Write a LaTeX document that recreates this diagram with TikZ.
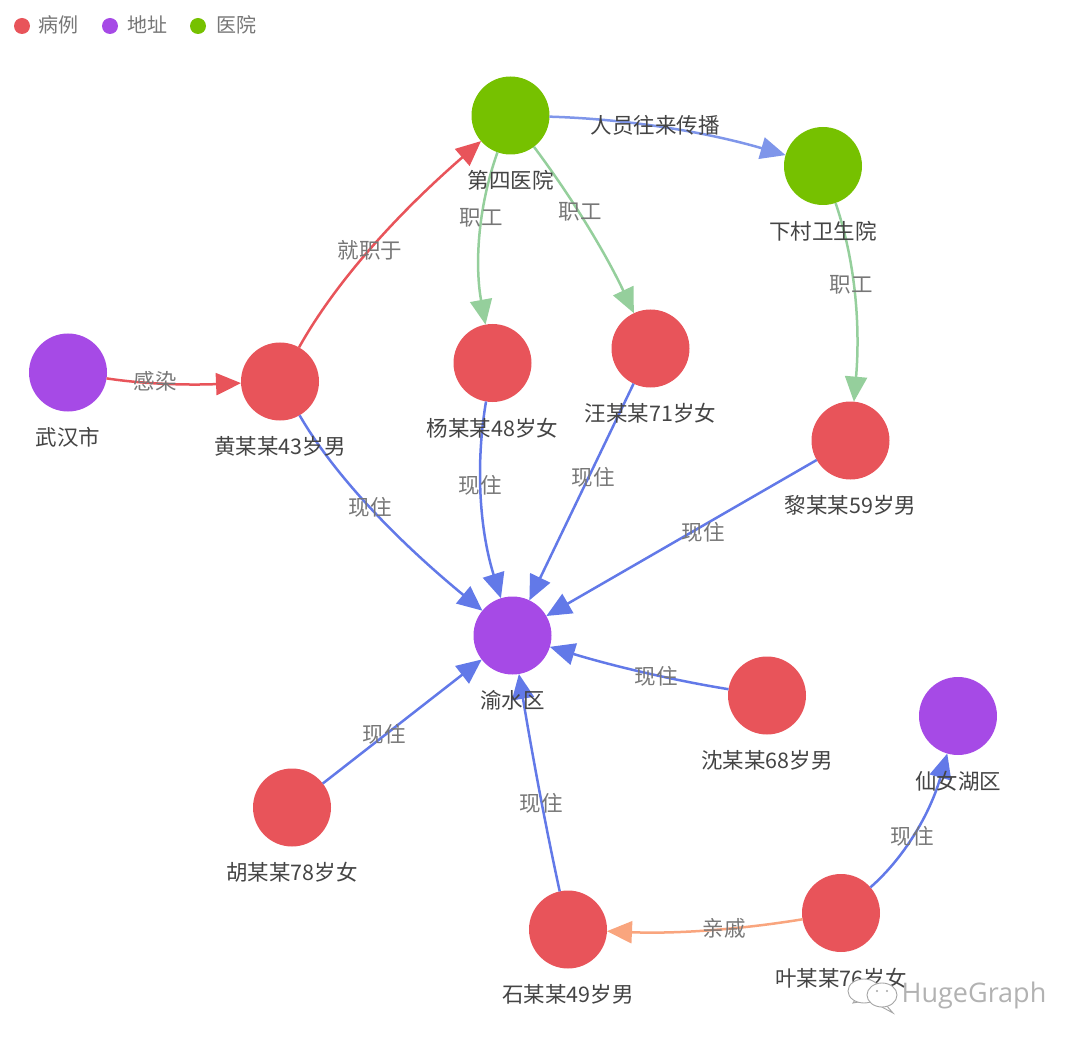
\documentclass[tikz,border=0pt]{standalone}
\usepackage{fontspec}
\setmainfont{Noto Sans CJK SC}
\newfontfamily\wmfont{Open Sans}
\usetikzlibrary{arrows.meta}
\definecolor{cred}{HTML}{E8545A}
\definecolor{cpurple}{HTML}{A64AE6}
\definecolor{cgreen}{HTML}{76C100}
\definecolor{eblue}{HTML}{6279E8}
\definecolor{elblue}{HTML}{7F96EA}
\definecolor{egreen}{HTML}{95CF9C}
\definecolor{eorange}{HTML}{F9A57E}
\definecolor{txt}{HTML}{444444}
\definecolor{ltxt}{HTML}{777777}
\tikzset{
  vert/.style={circle,minimum size=78pt,inner sep=0pt,outer sep=0pt},
  bing/.style={vert,fill=cred},
  addr/.style={vert,fill=cpurple},
  hosp/.style={vert,fill=cgreen},
  vlabel/.style={text=txt,font=\fontsize{21.5}{24}\selectfont,inner sep=0pt},
  elabel/.style={text=ltxt,font=\fontsize{21.5}{24}\selectfont,inner sep=0pt},
  leglabel/.style={text=ltxt,font=\fontsize{20}{24}\selectfont,inner sep=0pt},
  legdot/.style={circle,minimum size=16pt,inner sep=0pt},
  conn/.style={line width=2.5pt,-{Triangle[length=25pt,width=22pt]}},
  cred edge/.style={conn,draw=cred},
  cblue edge/.style={conn,draw=eblue},
  clblue edge/.style={conn,draw=elblue},
  cgreen edge/.style={conn,draw=egreen},
  corange edge/.style={conn,draw=eorange},
  wmicon/.style={draw=black!35,fill=white,line width=0.9pt}
}
\begin{document}
\begin{tikzpicture}[x=1pt,y=-1pt]
\useasboundingbox (0,0) rectangle (1080,1043);
% vertices
\node[addr] (wuhan) at (68,372.5) {};
\node[bing] (huang) at (280,381.5) {};
\node[hosp] (di4) at (510.5,115.5) {};
\node[hosp] (xiacun) at (823,166) {};
\node[bing] (yang) at (492.5,363) {};
\node[bing] (wang) at (650.5,348.5) {};
\node[bing] (li) at (850.5,440.5) {};
\node[addr] (yushui) at (512.5,635.5) {};
\node[bing] (shen) at (767,695.5) {};
\node[bing] (hu) at (292,807.5) {};
\node[bing] (shi) at (568,929.5) {};
\node[bing] (ye) at (841,913) {};
\node[addr] (xiannv) at (958,716) {};
% connectors
\draw[cred edge] (wuhan) .. controls (150,385) and (195,385) .. (huang);
\draw[cred edge] (huang) .. controls (335,283) and (396,215) .. (di4);
\draw[clblue edge] (di4) .. controls (628,119) and (706,132) .. (xiacun);
\draw[cgreen edge] (di4) .. controls (477,210) and (475,267) .. (yang);
\draw[cgreen edge] (di4) .. controls (573,199) and (606,254) .. (wang);
\draw[cgreen edge] (xiacun) .. controls (857,266) and (860,332) .. (li);
\draw[cblue edge] (huang) .. controls (333,473) and (393,537) .. (yushui);
\draw[cblue edge] (yang) .. controls (475,467) and (480,531) .. (yushui);
\draw[cblue edge] (wang) -- (yushui);
\draw[cblue edge] (li) -- (yushui);
\draw[cblue edge] (shen) .. controls (672,680) and (613,666) .. (yushui);
\draw[cblue edge] (hu) -- (yushui);
\draw[cblue edge] (shi) .. controls (544,819) and (531,747) .. (yushui);
\draw[corange edge] (ye) .. controls (737,930) and (673,934) .. (shi);
\draw[cblue edge] (ye) .. controls (904,858) and (930,814) .. (xiannv);
% vertex labels
\node[vlabel] (lwuhan) at (68,437) {武汉市};
\node[vlabel] (lhuang) at (280,446) {黄某某43岁男};
\node[vlabel] (ldi4) at (510.5,180) {第四医院};
\node[vlabel] (lxiacun) at (823,231) {下村卫生院};
\node[vlabel] (lyang) at (492.5,428) {杨某某48岁女};
\node[vlabel] (lwang) at (650.5,413) {汪某某71岁女};
\node[vlabel] (lli) at (850.5,505) {黎某某59岁男};
\node[vlabel] (lyushui) at (512.5,700) {渝水区};
\node[vlabel] (lshen) at (767,760) {沈某某68岁男};
\node[vlabel] (lhu) at (292,872) {胡某某78岁女};
\node[vlabel] (lshi) at (568,994) {石某某49岁男};
\node[vlabel] (lye) at (841,978) {叶某某76岁女};
\node[vlabel] (lxiannv) at (958,781) {仙女湖区};
% edge labels
\node[elabel] (e1) at (155,381) {感染};
\node[elabel] (e2) at (370,250) {就职于};
\node[vlabel] (e3) at (655,125) {人员往来传播};
\node[elabel] (e4) at (481,218) {职工};
\node[elabel] (e5) at (580,212) {职工};
\node[elabel] (e6) at (851,285) {职工};
\node[elabel] (e7) at (370,507) {现住};
\node[elabel] (e8) at (480,485) {现住};
\node[elabel] (e9) at (593,477) {现住};
\node[elabel] (e10) at (703,532) {现住};
\node[elabel] (e11) at (656,676) {现住};
\node[elabel] (e12) at (384,734) {现住};
\node[elabel] (e13) at (541,803) {现住};
\node[elabel] (e14) at (724,928) {亲戚};
\node[elabel] (e15) at (912,836) {现住};
% legend
\node[legdot,fill=cred] (d1) at (22,26) {};
\node[leglabel] (t1) at (58,25) {病例};
\node[legdot,fill=cpurple] (d2) at (110,26) {};
\node[leglabel] (t2) at (147,25) {地址};
\node[legdot,fill=cgreen] (d3) at (198,26) {};
\node[leglabel] (t3) at (236,25) {医院};
% watermark
\draw[wmicon] (853,1003) -- (857,997) -- (864,1001) -- cycle;
\draw[wmicon] (864,991) ellipse (16pt and 12pt);
\draw[wmicon] (893,1013) -- (886,1005) -- (880,1006) -- cycle;
\draw[wmicon] (882,995) ellipse (15pt and 12pt);
\fill[black!35] (877,991) circle (1.2pt) (887,991) circle (1.2pt);
\node[inner sep=0pt,text=black!30,font=\wmfont\fontsize{27}{30}\selectfont] (wm) at (974,995) {HugeGraph};
\end{tikzpicture}
\end{document}
